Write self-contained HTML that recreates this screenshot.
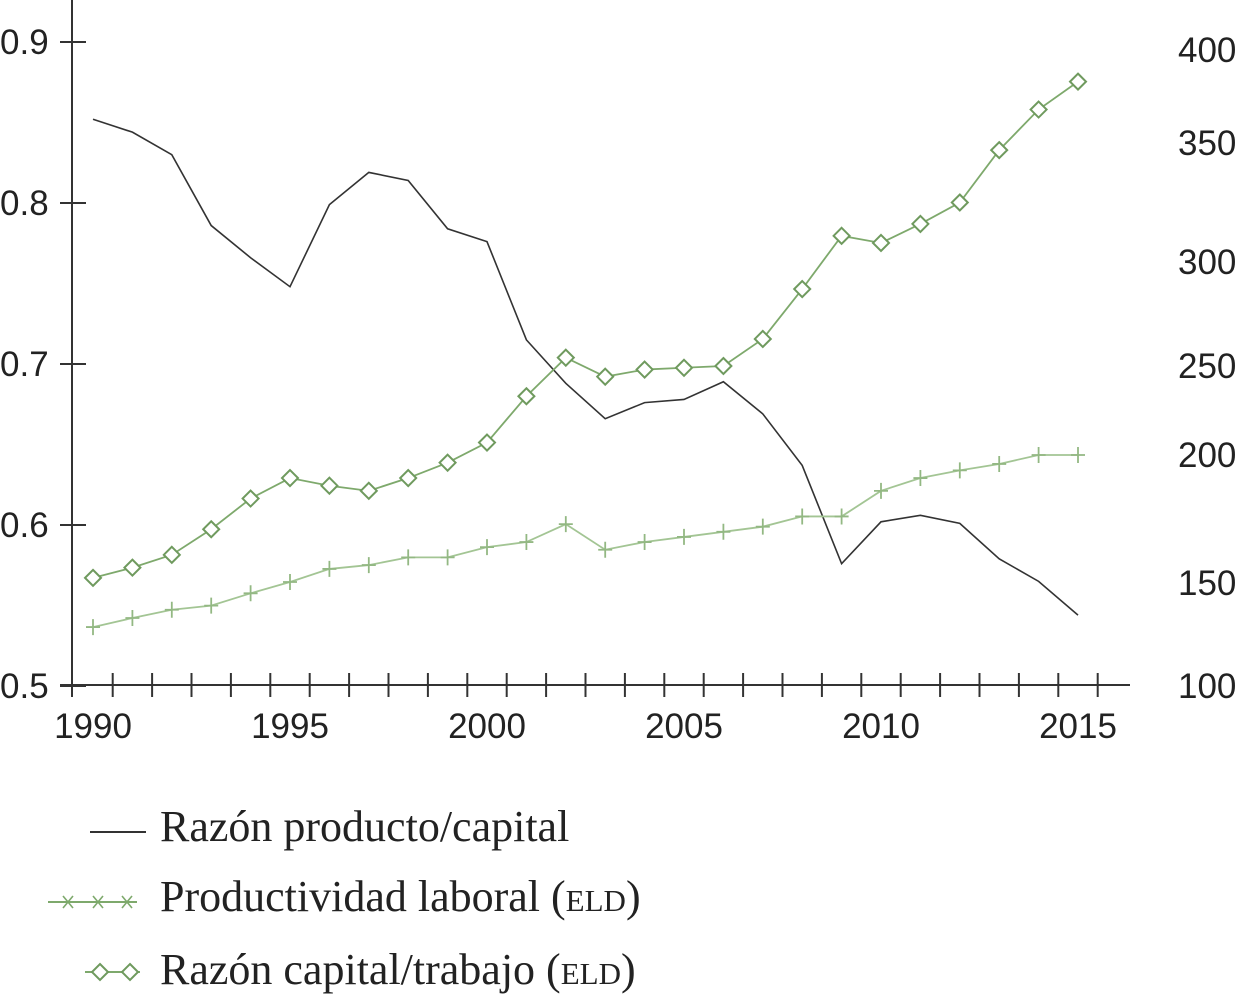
<!DOCTYPE html>
<html><head><meta charset="utf-8"><style>
html,body{margin:0;padding:0;background:#fff;}
svg{display:block;}
.tk{font-family:"Liberation Sans",sans-serif;font-size:35px;fill:#222;}
.lg{font-family:"Liberation Serif",serif;font-size:44px;fill:#222;}
.sc{font-variant:small-caps;}
</style></head><body>
<svg id="chart" width="1245" height="995" viewBox="0 0 1245 995"></svg>
<script>
const years=[1990,1991,1992,1993,1994,1995,1996,1997,1998,1999,2000,2001,2002,2003,2004,2005,2006,2007,2008,2009,2010,2011,2012,2013,2014,2015];
const outCap=[0.852,0.844,0.830,0.786,0.766,0.748,0.799,0.819,0.814,0.784,0.776,0.715,0.688,0.666,0.676,0.678,0.689,0.669,0.637,0.576,0.602,0.606,0.601,0.579,0.565,0.544];
const laborProd=[128.6,133,137,139,145,150.4,155.5,157,160,160,164,166,173,163,166,168,170,172,176,176,186,191,194,196.5,200,200];
const capLabor=[152,156,161,171,183,191,188,186,191,197,207,233,254,244,248,249,250,263,287,311,308,316,325,347,368,383];
const leftTicks=[0.5,0.6,0.7,0.8,0.9];
const rightTicks=[100,150,200,250,300,350,400];
const xLabels=[1990,1995,2000,2005,2010,2015];

const svg=document.getElementById('chart');
const NS='http://www.w3.org/2000/svg';
function mk(t,a,p){const e=document.createElementNS(NS,t);for(const k in a)e.setAttribute(k,a[k]);(p||svg).appendChild(e);return e;}
const xS=y=>93+(y-1990)*39.4;
const yL=v=>686-(v-0.5)*1610;
const rPix=[686,583,455,366,262,143,50];
function yR(v){for(let i=0;i<rightTicks.length-1;i++){if(v<=rightTicks[i+1]||i==rightTicks.length-2){const t=(v-rightTicks[i])/(rightTicks[i+1]-rightTicks[i]);return rPix[i]+t*(rPix[i+1]-rPix[i]);}}}

let e=mk('line',{x1:72,y1:0,x2:72,y2:697,stroke:'#333','stroke-width':2});


e=mk('line',{x1:60,y1:685,x2:1130,y2:685,stroke:'#333','stroke-width':2});


leftTicks.forEach(v=>{
 const y=yL(v);
 let t=mk('line',{x1:60,y1:y,x2:86,y2:y,stroke:'#333','stroke-width':2});
 
 
 let l=mk('text',{x:0,y:y+12,class:'tk'});l.textContent=v.toFixed(1);
 
 
});
rightTicks.forEach((v,i)=>{
 let l=mk('text',{x:1178,y:rPix[i]+12,class:'tk'});l.textContent=v;
 
 
});
for(let yr=1990.5;yr<2015.6;yr+=1){
 const x=xS(yr);
 let t=mk('line',{x1:x,y1:673,x2:x,y2:697,stroke:'#333','stroke-width':2});
 
 
}
xLabels.forEach(yr=>{
 let l=mk('text',{x:xS(yr),y:738,class:'tk','text-anchor':'middle'});l.textContent=yr;
 
 
});
e=mk('polyline',{points:years.map((y,i)=>xS(y)+','+yL(outCap[i])).join(' '),fill:'none',stroke:'#333','stroke-width':1.6});


e=mk('polyline',{points:years.map((y,i)=>xS(y)+','+yR(laborProd[i])).join(' '),fill:'none',stroke:'#a3c594','stroke-width':1.8});


years.forEach((y,i)=>{
 const x=xS(y),yy=yR(laborProd[i]);
 let c=mk('path',{d:`M${x-7},${yy}H${x+7}M${x},${yy-8}V${yy+8}`,stroke:'#93b883','stroke-width':1.8,fill:'none'});
 
 
});
e=mk('polyline',{points:years.map((y,i)=>xS(y)+','+yR(capLabor[i])).join(' '),fill:'none',stroke:'#7ea96c','stroke-width':1.8});


years.forEach((y,i)=>{
 const x=xS(y),yy=yR(capLabor[i]);
 let c=mk('path',{d:`M${x},${yy-8}L${x+8},${yy}L${x},${yy+8}L${x-8},${yy}Z`,stroke:'#6f9a5e','stroke-width':2,fill:'#fff'});
 
 
});
const lgG=mk('g',{});


mk('line',{x1:90,y1:832,x2:146,y2:832,stroke:'#333','stroke-width':2},lgG);
e=mk('text',{x:160,y:841,class:'lg'},lgG);e.textContent='Razón producto/capital';


mk('line',{x1:48,y1:902,x2:137,y2:902,stroke:'#7ea96c','stroke-width':2},lgG);
[68,98,127].forEach(x=>mk('path',{d:`M${x-5},896L${x+5},908M${x+5},896L${x-5},908`,stroke:'#7ea96c','stroke-width':1.6},lgG));
e=mk('text',{x:160,y:911,class:'lg'},lgG);
e.innerHTML='Productividad laboral (<tspan class="sc">eld</tspan>)';


mk('line',{x1:85,y1:972,x2:140,y2:972,stroke:'#7ea96c','stroke-width':2},lgG);
[100,130].forEach(x=>mk('path',{d:`M${x},964L${x+8},972L${x},980L${x-8},972Z`,stroke:'#6f9a5e','stroke-width':2,fill:'#fff'},lgG));
e=mk('text',{x:160,y:984,class:'lg'},lgG);
e.innerHTML='Razón capital/trabajo (<tspan class="sc">eld</tspan>)';


</script>
</body></html>
